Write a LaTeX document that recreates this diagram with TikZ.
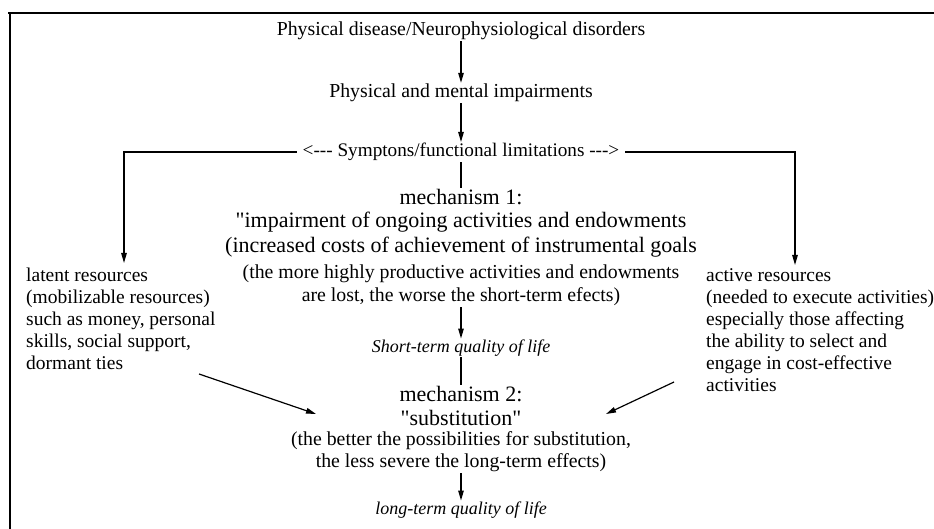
\documentclass[tikz,border=0pt]{standalone}
\usepackage{fontspec}
\setmainfont{Liberation Serif}[Ligatures=TeXOff]
\usetikzlibrary{arrows.meta}
\begin{document}
\begin{tikzpicture}[x=1pt,y=-1pt,
  txt/.style={inner sep=1pt, font=\fontsize{19.8}{22}\selectfont},
  big/.style={inner sep=1pt, font=\fontsize{22}{25}\selectfont},
  symst/.style={inner ysep=1pt, inner xsep=6pt, font=\fontsize{19.2}{21}\selectfont},
  side/.style={inner sep=0pt, align=left, anchor=north west, font=\fontsize{19.5}{22}\selectfont},
  ital/.style={inner sep=1pt, font=\fontsize{18}{20}\selectfont\itshape},
  arr/.style={line width=1.2pt, -{Triangle[length=10pt,width=5.5pt]}},
  ln/.style={line width=1.2pt},
  frame/.style={line width=2.3pt}]
\useasboundingbox (0,0) rectangle (934,529);
% frame
\draw[frame] (8,13) -- (934,13);
\draw[frame] (10,13) -- (10,529);
% centre column
\node[txt] (t1) at (461,31) {Physical disease/Neurophysiological disorders};
\node[txt] (t2) at (461,93) {Physical and mental impairments};
\node[symst] (sym) at (461,152) {<--- Symptons/functional limitations --->};
\node[big] (m1a) at (461,197) {mechanism 1:};
\node[big] (m1b) at (461,222) {"impairment of ongoing activities and endowments};
\node[big] (m1c) at (461,247) {(increased costs of achievement of instrumental goals};
\node[txt] (m1d) at (461,274) {(the more highly productive activities and endowments};
\node[txt] (m1e) at (461,297) {are lost, the worse the short-term efects)};
\node[ital] (st) at (461,348) {Short-term quality of life};
\node[big] (m2a) at (461,394) {mechanism 2:};
\node[big] (m2b) at (461,418) {"substitution"};
\node[txt] (m2c) at (461,441) {(the better the possibilities for substitution,};
\node[txt] (m2d) at (461,463) {the less severe the long-term effects)};
\node[ital] (lt) at (461,510) {long-term quality of life};
% side columns
\node[side] (lat) at (26,268) {latent resources\\(mobilizable resources)\\such as money, personal\\skills, social support,\\dormant ties};
\node[side] (act) at (706,268) {active resources\\(needed to execute activities)\\especially those affecting\\the ability to select and\\engage in cost-effective\\activities};
% connectors
\draw[arr] (t1) -- (t2);
\draw[arr] (t2) -- (sym);
\coordinate (lc) at (124,152);
\coordinate (rc) at (795,152);
\draw[arr, shorten >=5pt] (sym.west) -- (lc) -- (lc |- lat.north);
\draw[arr, shorten >=3pt] (sym.east) -- (rc) -- (rc |- act.north);
\draw[ln] (sym) -- (m1a);
\draw[arr] (m1e) -- (st);
\draw[ln] (st) -- (m2a);
\draw[arr] (m2d) -- (lt);
\coordinate (ls) at (199,374);
\coordinate (le) at (316,414);
\coordinate (rs) at (674,382);
\coordinate (re) at (606,414);
\draw[arr] (ls) -- (le);
\draw[arr] (rs) -- (re);
\end{tikzpicture}
\end{document}
